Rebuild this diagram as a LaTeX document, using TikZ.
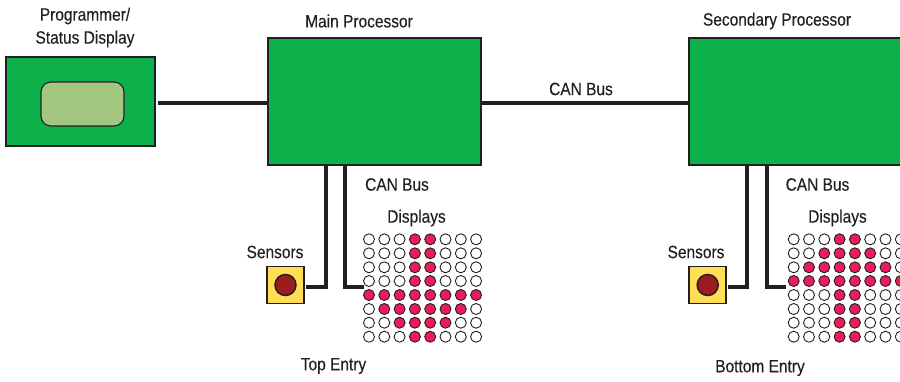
\documentclass[tikz,border=0pt]{standalone}
\usepackage{fontspec}
\setmainfont[FakeStretch=0.87,FakeBold=0.25]{Liberation Sans}
\definecolor{boxgreen}{HTML}{0DB14B}
\definecolor{lcdgreen}{HTML}{A3C77F}
\definecolor{ink}{HTML}{231F20}
\definecolor{ledred}{HTML}{EC1C5B}
\definecolor{senseyellow}{HTML}{FFDD55}
\definecolor{sensered}{HTML}{9B1C1F}
\tikzset{
  board/.style={draw=ink,line width=1.4pt,fill=boxgreen,rectangle,inner sep=0pt,outer sep=0pt,anchor=north west},
  lcd/.style={draw=ink,line width=1.1pt,fill=lcdgreen,rectangle,rounded corners=10pt,inner sep=0pt,minimum width=83pt,minimum height=44pt},
  sensorbox/.style={draw=ink,line width=1.6pt,fill=senseyellow,rectangle,inner sep=0pt,outer sep=0pt,minimum size=37pt},
  sensorlamp/.style={draw=ink,line width=1.5pt,fill=sensered,circle,inner sep=0pt,minimum size=21pt},
  ledon/.style={draw=ink,line width=0.9pt,fill=ledred,circle,inner sep=0pt,minimum size=11pt},
  ledoff/.style={draw=ink,line width=0.9pt,fill=white,circle,inner sep=0pt,minimum size=11pt},
  wire/.style={draw=ink,line width=4pt,line cap=butt,line join=miter},
  lbl/.style={text=ink,font=\fontsize{17.8}{23}\selectfont,inner sep=0pt,align=center}
}
\begin{document}
\begin{tikzpicture}[x=1pt,y=-1pt]
\useasboundingbox (0,0) rectangle (900,381);
\clip (0,0) rectangle (900,381);
% boxes
\node[board,minimum width=149pt,minimum height=89pt] (prog) at (6,57) {};
\node[lcd] (screen) at (82.5,104) {};
\node[board,minimum width=213pt,minimum height=127pt] (main) at (268,38) {};
\node[board,minimum width=240pt,minimum height=127pt] (sec) at (689,38) {};
% sensors
\node[sensorbox] (sensA) at (285.7,285) {};
\node[sensorlamp] (lampA) at (285.5,285) {};
\node[sensorbox] (sensB) at (707.5,285) {};
\node[sensorlamp] (lampB) at (707.7,285) {};
% LED matrices: each row lights columns lo..hi
\foreach \r/\y/\lo/\hi in {1/239.3/4/5,2/253.3/4/5,3/267.3/4/5,4/281/4/5,5/295/1/8,6/309/2/7,7/322.7/3/6,8/336.7/4/5}{
  \foreach \c in {1,...,8}{
    \ifnum\c<\lo\relax \def\ledstyle{ledoff}\else
      \ifnum\c>\hi\relax \def\ledstyle{ledoff}\else \def\ledstyle{ledon}\fi
    \fi
    \node[\ledstyle] (a\r-\c) at ({369+(\c-1)*15.3},\y) {};
  }
}
\foreach \r/\y/\lo/\hi in {1/239.3/4/5,2/253.3/3/6,3/267.3/2/7,4/281/1/8,5/295/4/5,6/309/4/5,7/322.7/4/5,8/336.7/4/5}{
  \foreach \c in {1,...,8}{
    \ifnum\c<\lo\relax \def\ledstyle{ledoff}\else
      \ifnum\c>\hi\relax \def\ledstyle{ledoff}\else \def\ledstyle{ledon}\fi
    \fi
    \node[\ledstyle] (b\r-\c) at ({793.7+(\c-1)*15.3},\y) {};
  }
}
% connector ends and corners
\coordinate (progout) at (158,102.5);
\coordinate (sa) at (306,287);
\coordinate (ca) at (325.5,287);
\coordinate (da) at (364,287);
\coordinate (ea) at (345,287);
\coordinate (sb) at (728,287);
\coordinate (cb) at (747.3,287);
\coordinate (db) at (786,287);
\coordinate (eb) at (766.7,287);
% wires
\draw[wire] (progout) -- (progout -| main.west);
\draw[wire] (main.east |- progout) -- (sec.west |- progout);
\draw[wire] (main.south -| ca) -- (ca) -- (sa);
\draw[wire] (main.south -| ea) -- (ea) -- (da);
\draw[wire] (sec.south -| cb) -- (cb) -- (sb);
\draw[wire] (sec.south -| eb) -- (eb) -- (db);
% labels
\node[lbl] (tprog) at (85,27.5) {Programmer/\\Status Display};
\node[lbl] (tmain) at (359,21) {Main Processor};
\node[lbl] (tsec) at (777,21) {Secondary Processor};
\node[lbl] (tcan) at (581,89) {CAN Bus};
\node[lbl] (tcana) at (397,184.5) {CAN Bus};
\node[lbl] (tcanb) at (817.5,184.5) {CAN Bus};
\node[lbl] (tdispa) at (416.5,218) {Displays};
\node[lbl] (tdispb) at (837.5,218) {Displays};
\node[lbl] (tsensa) at (275,252) {Sensors};
\node[lbl] (tsensb) at (696,252) {Sensors};
\node[lbl] (ttop) at (333.5,366) {Top Entry};
\node[lbl] (tbot) at (760,368) {Bottom Entry};
\end{tikzpicture}
\end{document}
